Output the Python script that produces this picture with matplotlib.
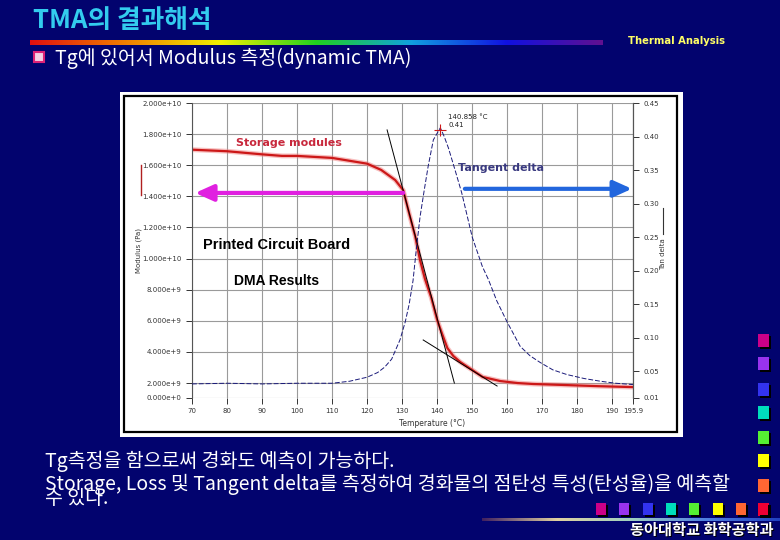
import numpy as np
import matplotlib
matplotlib.use("Agg")
import matplotlib.pyplot as plt
from matplotlib.patches import Rectangle
from matplotlib.colors import LinearSegmentedColormap

# Slide: TMA result interpretation (DMA of a printed circuit board)

KR = ["Noto Sans CJK KR", "DejaVu Sans"]
BG = "#02036E"
W, H = 780, 540

# storage modulus (Pa) vs temperature (C)
TEMP_E = [70, 80, 90, 95.7, 100, 110, 120, 124, 128, 130.3, 132, 133.7, 135.1,
          136.5, 138.3, 140, 141.5, 142.9, 144.6, 146.6, 150, 153, 158, 163,
          167.4, 177, 186, 195.9]
E_STORAGE = [1.70e10, 1.69e10, 1.67e10, 1.66e10, 1.66e10, 1.647e10, 1.61e10,
             1.57e10, 1.505e10, 1.44e10, 1.29e10, 1.145e10, 9.9e9,
             8.7e9, 7.5e9, 6.05e9, 5.1e9, 4.25e9, 3.74e9, 3.35e9, 2.84e9,
             2.39e9, 2.13e9, 2.0e9, 1.94e9, 1.87e9, 1.80e9, 1.74e9]

# tan delta vs temperature
TEMP_TAN = [70, 80, 90, 100, 110, 115, 120, 123, 125, 127, 129.4, 130.9, 132,
            133.1, 134, 135.1, 136.3, 137.4, 138.9, 140.9, 142, 143.2, 145.1,
            147, 150, 152.9, 154.6, 157, 160, 163.7, 166.5, 169.4, 173, 177,
            182, 186.6, 191, 195.9]
TAN_DELTA = [0.031, 0.032, 0.031, 0.032, 0.032, 0.035, 0.041, 0.048, 0.056,
             0.068, 0.097, 0.124, 0.15, 0.185, 0.23, 0.28, 0.32, 0.355, 0.395,
             0.413, 0.40, 0.383, 0.35, 0.316, 0.25, 0.206, 0.187, 0.155, 0.123,
             0.087, 0.073, 0.063, 0.052, 0.045, 0.039, 0.035, 0.032, 0.030]

PEAK_T, PEAK_TAN = 140.858, 0.41

# onset tangent lines
TANG1_T = [125.7, 144.9]
TANG1_E = [1.827e10, 2.0e9]
TANG2_T = [136.0, 157.1]
TANG2_E = [4.77e9, 1.81e9]

X_TICKS = [70, 80, 90, 100, 110, 120, 130, 140, 150, 160, 170, 180, 190, 195.9]
X_LABELS = ["70", "80", "90", "100", "110", "120", "130", "140", "150", "160",
            "170", "180", "190", "195.9"]
E_TICKS = [1.04e9, 2e9, 4e9, 6e9, 8e9, 1e10, 1.2e10, 1.4e10, 1.6e10, 1.8e10, 2e10]
E_LABELS = ["0.000e+0", "2.000e+9", "4.000e+9", "6.000e+9", "8.000e+9",
            "1.000e+10", "1.200e+10", "1.400e+10", "1.600e+10", "1.800e+10",
            "2.000e+10"]
TAN_TICKS = [0.01, 0.05, 0.10, 0.15, 0.20, 0.25, 0.30, 0.35, 0.40, 0.45]

SQUARE_COLORS = ["#CC0088", "#9933EE", "#3333EE", "#00DDBB", "#55EE33",
                 "#FFFF00", "#FF6633", "#EE0033"]


def fx(x):
    return x / W


def fy(y):
    return 1 - y / H


def rect(x0, y0, x1, y1, **kw):
    r = Rectangle((fx(x0), fy(y1)), (x1 - x0) / W, (y1 - y0) / H,
                  transform=fig.transFigure, **kw)
    fig.add_artist(r)
    return r


def gradient_bar(x0, y0, x1, y1, colors):
    a = fig.add_axes([fx(x0), fy(y1), (x1 - x0) / W, (y1 - y0) / H])
    cm = LinearSegmentedColormap.from_list("g", colors)
    a.imshow(np.linspace(0, 1, 256)[None, :], aspect="auto", cmap=cm)
    a.axis("off")


fig = plt.figure(figsize=(7.8, 5.4), dpi=100, facecolor=BG)

# header
fig.text(fx(33), fy(21), "TMA의 결과해석", family=KR, fontsize=18.5,
         fontweight="bold", color="#33CCEE", ha="left", va="center")
gradient_bar(30, 40, 603, 45, ["#E01010", "#F08000", "#F0F000", "#20D020",
                               "#10A0E0", "#1010E0", "#601090"])
fig.text(fx(628), fy(41), "Thermal Analysis", fontsize=7.2, fontweight="bold",
         color="#FFFF66", ha="left", va="center")
rect(34, 52, 44, 62, facecolor="#F4D0E4", edgecolor="#DD2277", lw=1.5)
fig.text(fx(55), fy(58), "Tg에 있어서 Modulus 측정(dynamic TMA)", family=KR,
         fontsize=14, color="white", ha="left", va="center")

# chart panel
rect(120, 92, 683, 437, facecolor="white", edgecolor="none", zorder=-3)
rect(124, 96, 677, 432, facecolor="none", edgecolor="black", lw=1.6, zorder=-2)

ax = fig.add_axes([fx(192), fy(398), (633 - 192) / W, (398 - 103) / H])
ax.set_facecolor("white")
ax.set_xlim(70, 195.9)
ax.set_ylim(1.04e9, 2.0e10)
ax.set_xticks(X_TICKS)
ax.set_xticklabels(X_LABELS)
ax.set_yticks(E_TICKS)
ax.set_yticklabels(E_LABELS)
ax.grid(True, color="#9A9A9A", lw=0.8)
for s in ["top", "bottom"]:
    ax.spines[s].set_visible(False)
for s in ["left", "right"]:
    ax.spines[s].set_color("#555555")
    ax.spines[s].set_linewidth(0.8)
ax.tick_params(labelsize=5, colors="#333333", length=4, width=0.7)

ax.plot(TEMP_E, E_STORAGE, color="#F08080", lw=3.5, alpha=0.5,
        solid_capstyle="round")
ax.plot(TEMP_E, E_STORAGE, color="#CC1818", lw=1.6)
ax.plot(TANG1_T, TANG1_E, color="black", lw=0.7)
ax.plot(TANG2_T, TANG2_E, color="black", lw=0.7)
ax.annotate("", xy=(70.9, 1.422e10), xytext=(130.3, 1.422e10),
            arrowprops=dict(arrowstyle="-|>,head_length=1.0,head_width=0.45",
                            color="#E020E0", lw=3, mutation_scale=11,
                            shrinkA=0, shrinkB=0))

ax2 = ax.twinx()
ax2.set_ylim(0.01, 0.45)
ax2.set_yticks(TAN_TICKS)
ax2.set_yticklabels([f"{v:.2f}" for v in TAN_TICKS])
ax2.tick_params(labelsize=5, colors="#333333", length=4, width=0.7)
for s in ["top", "bottom", "left"]:
    ax2.spines[s].set_visible(False)
ax2.spines["right"].set_color("#555555")
ax2.spines["right"].set_linewidth(0.8)
ax2.plot(TEMP_TAN, TAN_DELTA, color="#1A1A7A", lw=0.7, dashes=(5, 2))
ax2.plot([PEAK_T], [PEAK_TAN], marker="+", ms=9, mew=0.8, color="#CC1818")
ax2.text(PEAK_T + 2.3, 0.423, "140.858 °C\n0.41", fontsize=5, color="#222222",
         va="center", ha="left", linespacing=1.3)
ax2.annotate("", xy=(195.6, 0.322), xytext=(147.9, 0.322),
             arrowprops=dict(arrowstyle="-|>,head_length=1.0,head_width=0.45",
                             color="#2266DD", lw=3, mutation_scale=11,
                             shrinkA=0, shrinkB=0))

# chart captions
fig.text(fx(236), fy(143), "Storage modules", fontsize=8, fontweight="bold",
         color="#C8283C", ha="left", va="center")
fig.text(fx(458), fy(168), "Tangent delta", fontsize=8, fontweight="bold",
         color="#3A3A80", ha="left", va="center")
fig.text(fx(203), fy(245), "Printed Circuit Board", family="Liberation Sans",
         fontsize=10.5, fontweight="bold", color="black", ha="left", va="center")
fig.text(fx(234), fy(281), "DMA Results", family="Liberation Sans",
         fontsize=10, fontweight="bold", color="black", ha="left", va="center")
fig.text(fx(139), fy(250), "Modulus (Pa)", fontsize=5, rotation=90,
         color="#333333", ha="center", va="center")
fig.add_artist(plt.Line2D([fx(141), fx(141)], [fy(165), fy(195)],
                          color="#B02020", lw=1, transform=fig.transFigure))
fig.text(fx(663), fy(254), "Tan delta", fontsize=5, rotation=90,
         color="#333333", ha="center", va="center")
fig.add_artist(plt.Line2D([fx(663), fx(663)], [fy(208), fy(234)],
                          color="#333333", lw=0.8, transform=fig.transFigure))
fig.text(fx(432), fy(423), "Temperature (°C)", fontsize=5.5, color="#333333",
         ha="center", va="center")

# bottom text
fig.text(fx(45), fy(461), "Tg측정을 함으로써 경화도 예측이 가능하다.", family=KR,
         fontsize=14, color="white", ha="left", va="center")
fig.text(fx(45), fy(484),
         "Storage, Loss 및 Tangent delta를 측정하여 경화물의 점탄성 특성(탄성율)을 예측할",
         family=KR, fontsize=14, color="white", ha="left", va="center")
fig.text(fx(45), fy(498), "수 있다.", family=KR, fontsize=14, color="white",
         ha="left", va="center")

# decorative squares
col_y = [334, 357, 383, 406, 431, 454, 479, 503]
for c, y in zip(SQUARE_COLORS, col_y):
    rect(760, y + 2, 771, y + 15, facecolor="black", edgecolor="none")
    rect(758, y, 769, y + 13, facecolor=c, edgecolor="none")
row_x = [596, 619, 643, 666, 689, 713, 736, 758]
for c, x in zip(SQUARE_COLORS, row_x):
    rect(x + 2, 505, x + 12, 517, facecolor="black", edgecolor="none")
    rect(x, 503, x + 10, 515, facecolor=c, edgecolor="none")

gradient_bar(482, 518, 780, 521, ["#402060", "#E0D0A0", "#A0D0C0",
                                  "#5080E0", "#2040C0"])
fig.text(fx(631), fy(531), "동아대학교 화학공학과", family=KR, fontsize=11,
         fontweight="bold", color="black", ha="left", va="center")
fig.text(fx(630), fy(530), "동아대학교 화학공학과", family=KR, fontsize=11,
         fontweight="bold", color="white", ha="left", va="center")

fig.savefig("out.png", dpi=100, facecolor=BG)
